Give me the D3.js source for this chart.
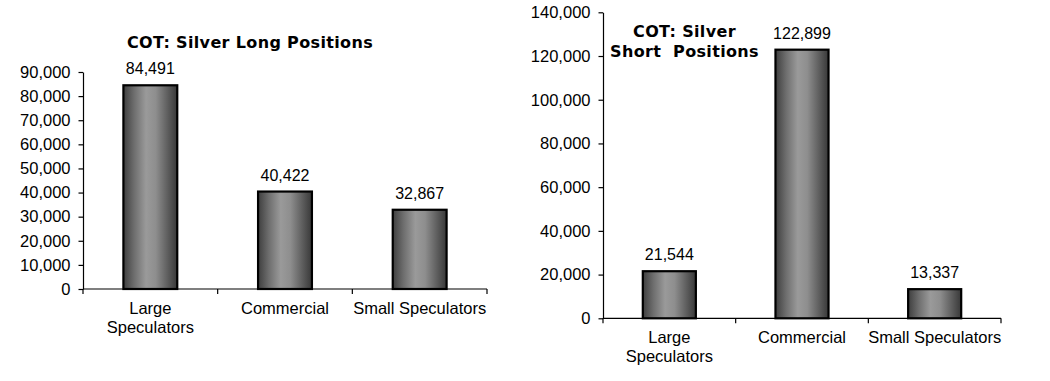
<!DOCTYPE html>
<html>
<head>
<meta charset="utf-8">
<script src="https://cdn.jsdelivr.net/npm/d3@7"></script>
<style>
  html, body { margin: 0; padding: 0; background: #fff; }
  svg { display: block; }
</style>
</head>
<body>
<svg id="chart" width="1050" height="381"></svg>
<script>
// ---- data ----
const categories = ["Large Speculators", "Commercial", "Small Speculators"];
const categoryLines = [["Large", "Speculators"], ["Commercial"], ["Small Speculators"]];
const longValues = [84491, 40422, 32867];
const shortValues = [21544, 122899, 13337];
const longTicks = [0, 10000, 20000, 30000, 40000, 50000, 60000, 70000, 80000, 90000];
const shortTicks = [0, 20000, 40000, 60000, 80000, 100000, 120000, 140000];
const longTitle = ["COT: Silver Long Positions"];
const shortTitle = ["COT: Silver", "Short  Positions"];

const svg = d3.select("#chart");
const fmt = d3.format(",");

const defs = svg.append("defs");
const grad = defs.append("linearGradient").attr("id", "barGrad")
  .attr("x1", "0%").attr("x2", "100%").attr("y1", "0%").attr("y2", "0%");
[[0, "#3e3e3e"], [0.2, "#6e6e6e"], [0.42, "#9a9a9a"], [0.6, "#8e8e8e"], [0.85, "#585858"], [1, "#383838"]]
  .forEach(([o, c]) => grad.append("stop").attr("offset", o).attr("stop-color", c));

function drawChart(cfg) {
  const g = svg.append("g");
  const x = d3.scaleBand().domain(categories).range([cfg.left, cfg.right]).padding(0);
  const y = d3.scaleLinear().domain([0, cfg.max]).range([cfg.bottom, cfg.top]);

  // y axis
  const yAxis = g.append("g")
    .attr("transform", `translate(${cfg.left},0)`)
    .call(d3.axisLeft(y).tickValues(cfg.ticks).tickFormat(fmt).tickSize(4.5).tickSizeOuter(0).tickPadding(8));
  yAxis.select(".domain").attr("stroke", "#000").attr("stroke-width", 1.2);
  yAxis.selectAll(".tick line").attr("stroke", "#000").attr("stroke-width", 1.2);
  yAxis.selectAll(".tick text")
    .attr("font-family", "'Liberation Sans', Arial, sans-serif")
    .attr("font-size", 16.5).attr("fill", "#000");

  // x axis line + boundary ticks
  const xg = g.append("g").attr("transform", `translate(0,${cfg.bottom})`);
  xg.append("line").attr("x1", x.range()[0]).attr("x2", x.range()[1])
    .attr("y1", 0).attr("y2", 0).attr("stroke", "#000").attr("stroke-width", 1.2);
  const bounds = categories.map(c => x(c)).concat([x.range()[1]]);
  xg.selectAll("line.tk").data(bounds).join("line").attr("class", "tk")
    .attr("x1", d => d).attr("x2", d => d).attr("y1", 0).attr("y2", 5)
    .attr("stroke", "#000").attr("stroke-width", 1.2);

  // category labels
  const labs = xg.selectAll("text.cat").data(categories).join("text").attr("class", "cat")
    .attr("text-anchor", "middle")
    .attr("font-family", "'Liberation Sans', Arial, sans-serif")
    .attr("font-size", 16.5).attr("fill", "#000");
  labs.each(function(d, i) {
    const t = d3.select(this);
    categoryLines[i].forEach((ln, j) => {
      t.append("tspan").attr("x", x(d) + x.bandwidth() / 2).attr("y", 25 + j * 19).text(ln);
    });
  });

  // bars
  const bw = x.bandwidth() * 0.4;
  g.selectAll("rect.bar").data(cfg.values).join("rect").attr("class", "bar")
    .attr("x", (d, i) => x(categories[i]) + (x.bandwidth() - bw) / 2)
    .attr("y", d => y(d))
    .attr("width", bw)
    .attr("height", d => y(0) - y(d))
    .attr("fill", "url(#barGrad)")
    .attr("stroke", "#000").attr("stroke-width", 2.2);

  // value labels
  g.selectAll("text.val").data(cfg.values).join("text").attr("class", "val")
    .attr("x", (d, i) => x(categories[i]) + x.bandwidth() / 2)
    .attr("y", d => y(d) - 11)
    .attr("text-anchor", "middle")
    .attr("font-family", "'Liberation Sans', Arial, sans-serif")
    .attr("font-size", 16).attr("fill", "#000")
    .text(d => fmt(d));

  // title
  const tt = g.append("text")
    .attr("text-anchor", "middle")
    .attr("font-family", "'DejaVu Sans', Verdana, sans-serif")
    .attr("font-weight", "bold").attr("font-size", cfg.titleSize).attr("fill", "#000")
    .attr("letter-spacing", 0.35)
    .style("white-space", "pre");
  cfg.title.forEach((ln, j) => {
    tt.append("tspan").attr("x", cfg.titleX).attr("y", cfg.titleY + j * 20).text(ln);
  });
}

drawChart({ left: 83, right: 487, top: 72, bottom: 289, max: 90000, ticks: longTicks,
  values: longValues, title: longTitle, titleX: 250, titleY: 48, titleSize: 16 });
drawChart({ left: 603, right: 1001, top: 12.3, bottom: 318.3, max: 140000, ticks: shortTicks,
  values: shortValues, title: shortTitle, titleX: 684.5, titleY: 37, titleSize: 16 });
</script>
</body>
</html>
